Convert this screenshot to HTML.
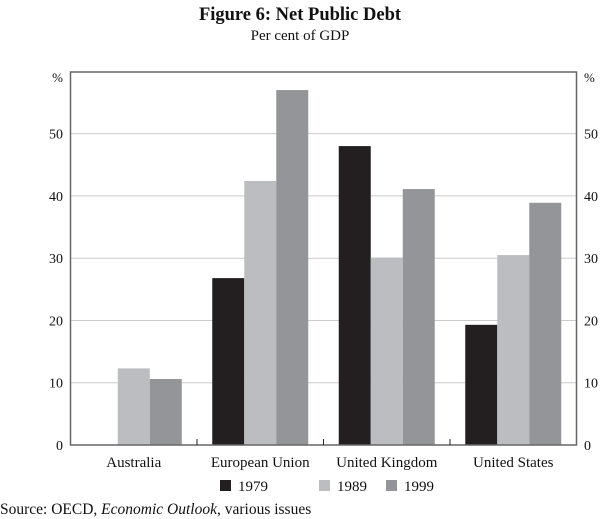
<!DOCTYPE html>
<html><head><meta charset="utf-8"><style>
body{margin:0;background:#fff;}
svg{display:block;font-family:"Liberation Serif",serif;}
</style></head><body>
<svg id="chart" width="600" height="519" viewBox="0 0 600 519">
<text x="300" y="20" text-anchor="middle" font-size="18.5" font-weight="bold" fill="#111">Figure 6: Net Public Debt</text>
<text x="300" y="40" text-anchor="middle" font-size="15" fill="#111">Per cent of GDP</text>
<g id="grid"></g>
<g id="bars"></g>
<rect x="70.5" y="72" width="506" height="373" fill="none" stroke="#666" stroke-width="1.5"/>
<g id="axes"></g>
<text x="63" y="82" text-anchor="end" font-size="13" fill="#111">%</text>
<text x="584" y="82" font-size="13" fill="#111">%</text>
<g id="legend"></g>
<text x="0" y="514" font-size="15.5" fill="#111">Source: OECD, <tspan font-style="italic">Economic Outlook</tspan>, various issues</text>
</svg>
<script>
const categories = ["Australia","European Union","United Kingdom","United States"];
const seriesNames = ["1979","1989","1999"];
const values1979 = [null, 26.8, 48.0, 19.3];
const values1989 = [12.3, 42.4, 30.1, 30.5];
const values1999 = [10.6, 57.0, 41.1, 38.9];
const yTicks = [0,10,20,30,40,50];

const colors = ["#231f20","#bcbdc1","#949599"];
const L=70.5, R=576.5, T=72, B=445, yMax=59.9;
const NS="http://www.w3.org/2000/svg";
const y = v => B - v/yMax*(B-T);
const gw = (R-L)/categories.length;
const bw = 32;
const xBar = (ci,si) => L + ci*gw + (gw - 3*bw)/2 + si*bw;
function mk(tag, attrs, parent){const e=document.createElementNS(NS,tag);for(const k in attrs)e.setAttribute(k,attrs[k]);parent.appendChild(e);return e;}
const grid=document.getElementById('grid'), bars=document.getElementById('bars'), axes=document.getElementById('axes'), legend=document.getElementById('legend');
yTicks.forEach(t=>{
  if(t>0){const g=mk('line',{x1:L,x2:R,y1:y(t),y2:y(t),stroke:'#ccc','stroke-width':1},grid);
  
  }
  const a=mk('text',{x:63,y:y(t)+5,'text-anchor':'end','font-size':14,fill:'#111'},axes);a.textContent=t;
  
  
  const b=mk('text',{x:584,y:y(t)+5,'font-size':14,fill:'#111'},axes);b.textContent=t;
  
  
});
const allSeries=[values1979,values1989,values1999];
categories.forEach((c,ci)=>{
  allSeries.forEach((vals,si)=>{
    const v=vals[ci]; if(v==null) return;
    const r=mk('rect',{x:xBar(ci,si),y:y(v),width:bw,height:B-y(v),fill:colors[si]},bars);
    
    
  });
  const lab=mk('text',{x:L+ci*gw+gw/2,y:467,'text-anchor':'middle','font-size':15,fill:'#111'},axes);lab.textContent=c;
  
  
  if(ci>0){const tk=mk('line',{x1:L+ci*gw,x2:L+ci*gw,y1:B-6,y2:B,stroke:'#222','stroke-width':1},axes);
  
  }
});
const lx=[220,319,386];
seriesNames.forEach((s,si)=>{
  const sw=mk('rect',{x:lx[si],y:480,width:11,height:11,fill:colors[si]},legend);
  
  
  const t=mk('text',{x:lx[si]+18,y:491,'font-size':15,fill:'#111'},legend);t.textContent=s;
  
  
});
</script>
</body></html>
